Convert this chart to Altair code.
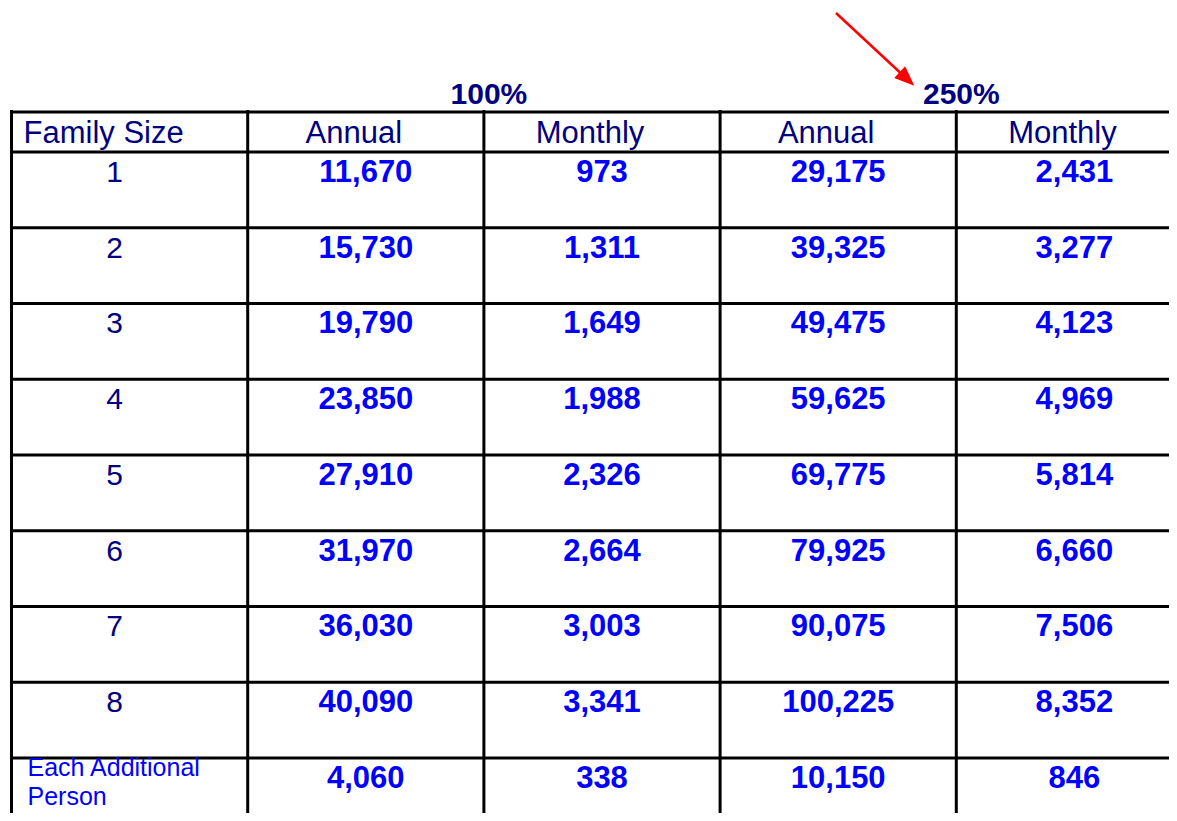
import altair as alt
import pandas as pd

# ---- data ----
family_sizes = ["1", "2", "3", "4", "5", "6", "7", "8", "Each Additional Person"]
column_headers = ["Family Size", "Annual", "Monthly", "Annual", "Monthly"]
group_labels = ["100%", "250%"]
annual_100 = [11670, 15730, 19790, 23850, 27910, 31970, 36030, 40090, 4060]
monthly_100 = [973, 1311, 1649, 1988, 2326, 2664, 3003, 3341, 338]
annual_250 = [29175, 39325, 49475, 59625, 69775, 79925, 90075, 100225, 10150]
monthly_250 = [2431, 3277, 4123, 4969, 5814, 6660, 7506, 8352, 846]

# ---- layout (column / row units) ----
X0, XU = 11.5, 236.2   # page px of first column line, px per column
Y0, YU = 152.0, 75.75  # page px of first body row line, px per row
W, H = 1161, 805
RIGHT, BOTTOM = 8 + W, 8 + H

xs = alt.Scale(domain=[(8 - X0) / XU, (RIGHT - X0) / XU], nice=False, zero=False)
ys = alt.Scale(domain=[(8 - Y0) / YU, (BOTTOM - Y0) / YU], nice=False, zero=False, reverse=True)

NAVY = "#000080"
BLUE = "#0000FF"
FONT = "Liberation Sans"

series = [annual_100, monthly_100, annual_250, monthly_250]
rows = []
for c, vals in enumerate(series, start=1):
    for i, v in enumerate(vals):
        rows.append({"x": c + 0.5, "y": i + 0.395, "v": v})
values_df = pd.DataFrame(rows)

num_df = pd.DataFrame([{"x": 0.5, "y": i + 0.395, "t": s}
                       for i, s in enumerate(family_sizes[:-1])])
extra_df = pd.DataFrame([{"x": 0.0, "y": 8 + 0.24,
                          "t": family_sizes[-1].replace(" Person", "\nPerson")}])

hdr_first = pd.DataFrame([{"x": 0.0, "y": -0.125, "t": column_headers[0]}])
hdr_rest = pd.DataFrame([{"x": c + 0.5, "y": -0.125, "t": h}
                         for c, h in enumerate(column_headers[1:], start=1)])
grp_df = pd.DataFrame([{"x": 2.0 * (k + 1), "y": -0.64, "t": g}
                       for k, g in enumerate(group_labels)])

hline_df = pd.DataFrame([{"y": y, "x": 0.0, "x2": 5.5}
                         for y in [-40 / YU] + list(range(0, 9))])
vline_df = pd.DataFrame([{"x": float(c), "y": -42 / YU, "y2": 9.5} for c in range(0, 5)])

# annotation arrow (page px converted to units)
arrow_start = ((836 - X0) / XU, (13 - Y0) / YU)
arrow_body_end = ((907 - X0) / XU, (79 - Y0) / YU)
arrow_df = pd.DataFrame([{"x": arrow_start[0], "y": arrow_start[1],
                          "x2": arrow_body_end[0], "y2": arrow_body_end[1]}])

X = lambda f="x": alt.X(f"{f}:Q", scale=xs, axis=None)
Y = lambda f="y": alt.Y(f"{f}:Q", scale=ys, axis=None)

hlines = alt.Chart(hline_df).mark_rule(color="black", strokeWidth=3, clip=True).encode(
    x=X(), x2="x2:Q", y=Y())
vlines = alt.Chart(vline_df).mark_rule(color="black", strokeWidth=3, clip=True).encode(
    x=X(), y=Y(), y2="y2:Q")

values = alt.Chart(values_df).mark_text(
    font=FONT, fontSize=31, fontWeight="bold", color=BLUE,
    align="center", baseline="alphabetic").encode(
    x=X(), y=Y(), text=alt.Text("v:Q", format=","))

nums = alt.Chart(num_df).mark_text(
    font=FONT, fontSize=30, color=NAVY, align="center", baseline="alphabetic", dx=-15
).encode(x=X(), y=Y(), text="t:N")

extra = alt.Chart(extra_df).mark_text(
    font=FONT, fontSize=25, color=BLUE, align="left", baseline="alphabetic",
    dx=16, lineBreak="\n", lineHeight=29).encode(x=X(), y=Y(), text="t:N")

h1 = alt.Chart(hdr_first).mark_text(
    font=FONT, fontSize=31, color=NAVY, align="left", baseline="alphabetic", dx=12
).encode(x=X(), y=Y(), text="t:N")
h2 = alt.Chart(hdr_rest).mark_text(
    font=FONT, fontSize=31, color=NAVY, align="center", baseline="alphabetic", dx=-12
).encode(x=X(), y=Y(), text="t:N")
grp = alt.Chart(grp_df).mark_text(
    font=FONT, fontSize=30, fontWeight="bold", color=NAVY, align="center",
    baseline="alphabetic", dx=5).encode(x=X(), y=Y(), text="t:N")

arrow_line = alt.Chart(arrow_df).mark_rule(color="#FF0000", strokeWidth=2.5).encode(
    x=X(), y=Y(), x2="x2:Q", y2="y2:Q")
arrow_head = alt.Chart(arrow_df).mark_point(
    shape="M1,0L-1,-0.8L-1,0.8Z", filled=True, opacity=1, color="#FF0000",
    size=400, angle=43).encode(x=X("x2"), y=Y("y2"))

chart = alt.layer(hlines, vlines, values, nums, extra, h1, h2, grp, arrow_line, arrow_head).properties(
    width=W, height=H, padding=0, autosize=alt.AutoSizeParams(type="none"),
    background="white").configure_view(stroke=None)

chart.save("out.html", embed_options={"renderer": "svg", "actions": False})
